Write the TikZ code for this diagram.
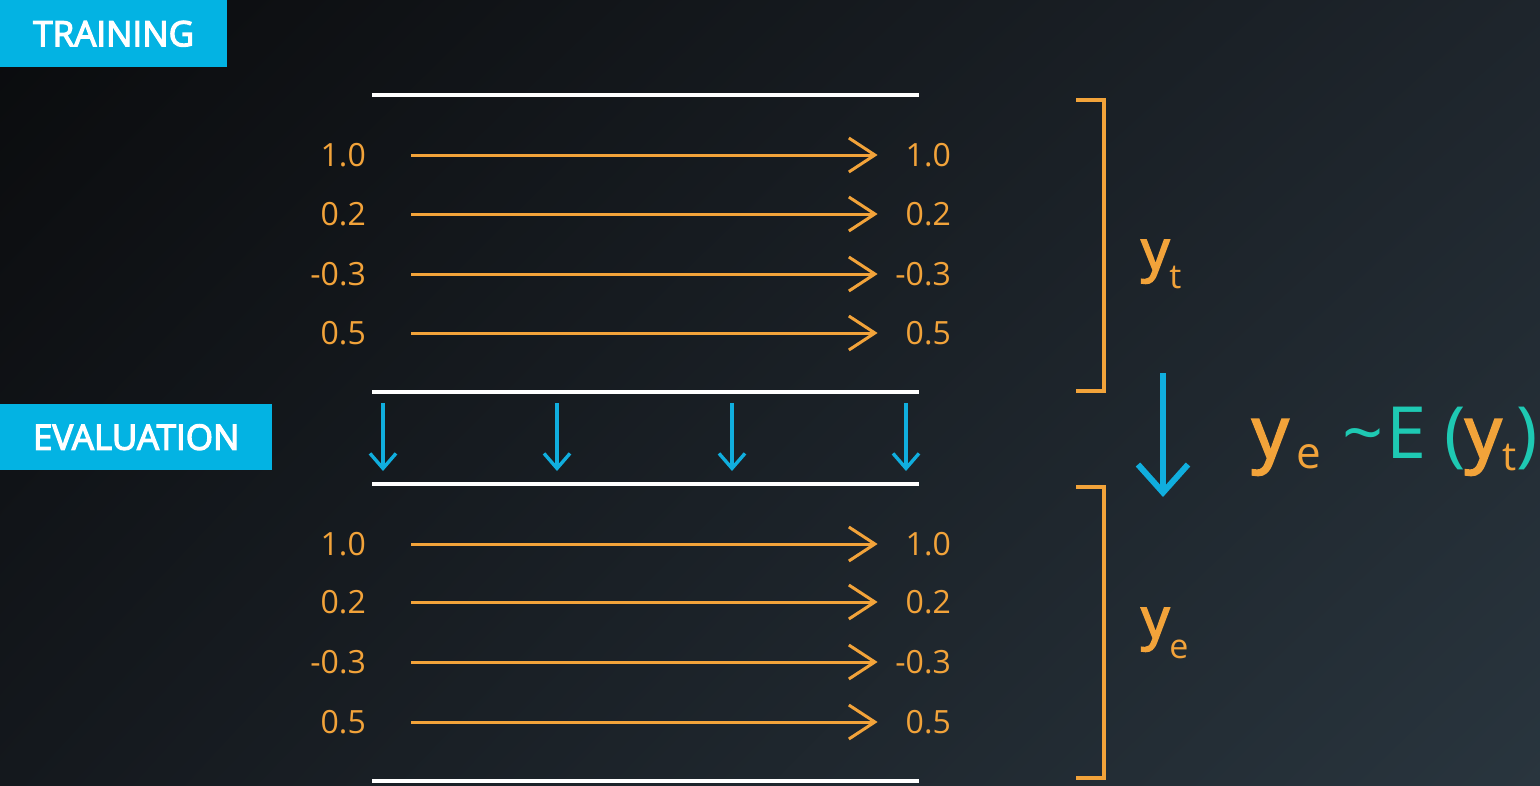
\documentclass[tikz,border=0pt]{standalone}
\usepackage{fontspec}
\setmainfont{Open Sans}
\newfontfamily\semib[FakeBold=3]{Open Sans}
\newfontfamily\tagfont[FakeBold=3.5]{Open Sans}
\usetikzlibrary{arrows.meta,shadings}
\definecolor{bgUL}{HTML}{0A0B0D}
\definecolor{bgUR}{HTML}{1E252C}
\definecolor{bgLL}{HTML}{14181D}
\definecolor{bgLR}{HTML}{29353E}
\definecolor{org}{HTML}{F2A33A}
\definecolor{skyb}{HTML}{10AEDE}
\definecolor{boxb}{HTML}{03B3E3}
\definecolor{tealc}{HTML}{1EC9B3}
\tikzset{
  num/.style={inner sep=0pt, text=org, font=\fontsize{32}{38}\selectfont},
  flow/.style={draw=org, line width=3pt, -{Straight Barb[length=26pt,width=34pt,line width=3pt]}, shorten <=45pt, shorten >=9pt},
  sep/.style={draw=white, line width=3.5pt},
  drop/.style={draw=skyb, line width=3.4pt, -{Straight Barb[length=15pt,width=26pt,line width=3.4pt]}},
  tag/.style={fill=boxb, text=white, inner sep=0pt, font=\tagfont\fontsize{35}{40}\selectfont, anchor=north west},
  brk/.style={draw=org, line width=3.5pt},
  ylab/.style={inner sep=0pt, text=org, anchor=base west},
}
\newcommand{\nb}[1]{\makebox[64pt][r]{#1}}
\begin{document}
\begin{tikzpicture}[x=1pt,y=-1pt]
\useasboundingbox (0,0) rectangle (1540,785);
\shade[shading=bilinear interpolation, upper left=bgUL, upper right=bgUR, lower left=bgLL, lower right=bgLR] (0,0) rectangle (1540,785);

% tags
\node[tag, minimum width=227pt, minimum height=67pt] (train) at (0,0) {TRAINING};
\node[tag, minimum width=272pt, minimum height=66pt] (eval) at (0,404) {EVALUATION};

% separators
\coordinate (s1a) at (372,95);  \coordinate (s1b) at (919,95);
\coordinate (s2a) at (372,392); \coordinate (s2b) at (919,392);
\coordinate (s3a) at (372,484); \coordinate (s3b) at (919,484);
\coordinate (s4a) at (372,781); \coordinate (s4b) at (919,781);
\draw[sep] (s1a) -- (s1b);
\draw[sep] (s2a) -- (s2b);
\draw[sep] (s3a) -- (s3b);
\draw[sep] (s4a) -- (s4b);

% rows
\foreach \i/\yy/\v in {1/155/1.0, 2/214/0.2, 3/274/-0.3, 4/333/0.5, 5/544/1.0, 6/602/0.2, 7/662/-0.3, 8/722/0.5}{
  \node[num, anchor=east] (l\i) at (366,\yy) {\nb{\v}};
  \node[num, anchor=east] (r\i) at (951,\yy) {\nb{\v}};
  \draw[flow] (l\i.east) -- (r\i.west);
}

% small blue arrows
\foreach \k/\xx in {1/383, 2/557, 3/732, 4/906}{
  \coordinate (d\k a) at (\xx,403);
  \coordinate (d\k b) at (\xx,471);
  \draw[drop] (d\k a) -- (d\k b);
}

% brackets
\draw[brk] (1076,100) -- (1104,100) -- (1104,391) -- (1076,391);
\draw[brk] (1076,487) -- (1104,487) -- (1104,778) -- (1076,778);

% labels
\node[ylab] (yt) at (1141,270) {\fontsize{56}{60}\selectfont\semib y\raisebox{-18pt}{\normalfont\fontsize{34}{38}\selectfont t}};
\node[ylab] (ye) at (1141,638) {\fontsize{56}{60}\selectfont\semib y\raisebox{-20pt}{\normalfont\fontsize{34}{38}\selectfont e}};

% big blue arrow
\coordinate (ba) at (1163,373);
\coordinate (bb) at (1163,497);
\draw[draw=skyb, line width=6pt, -{Straight Barb[length=28pt,width=50pt,line width=6pt]}] (ba) -- (bb);

% formula
\node[inner sep=0pt, anchor=base west] (form) at (1252,458) {\fontsize{72}{80}\selectfont
  \makebox[44pt][l]{\color{org}\semib y}%
  \makebox[46pt][l]{\raisebox{-10pt}{\color{org}\fontsize{44}{48}\selectfont e}}%
  \makebox[44pt][l]{\color{tealc}\textasciitilde}%
  \makebox[58pt][l]{\color{tealc}E}%
  \makebox[21pt][l]{\color{tealc}(}%
  \makebox[37pt][l]{\color{org}\semib y}%
  \makebox[14pt][l]{\raisebox{-12pt}{\color{org}\fontsize{40}{44}\selectfont t}}%
  {\color{tealc})}};
\end{tikzpicture}
\end{document}
